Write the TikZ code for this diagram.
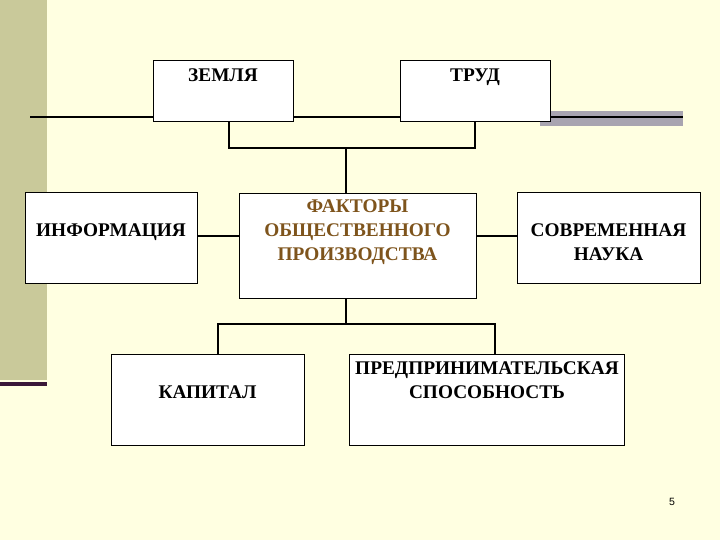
\documentclass[tikz,border=0pt]{standalone}
\usepackage{fontspec}
\setmainfont{Liberation Serif}
\setsansfont{Liberation Sans}
\usetikzlibrary{positioning}

\definecolor{bgcream}{HTML}{FFFFE1}
\definecolor{bandolive}{HTML}{C9C99A}
\definecolor{barpurple}{HTML}{3A1838}
\definecolor{bargray}{HTML}{A8A4B0}
\definecolor{factbrown}{HTML}{7E541C}

\tikzset{
    box/.style={draw=black, fill=white, line width=0.5pt, inner sep=0pt},
    lbl/.style={inner sep=0pt, align=center, font=\fontsize{11}{13.6}\selectfont\bfseries},
    link/.style={line width=0.9pt},
    mainline/.style={line width=1.3pt},
}

\begin{document}
\begin{tikzpicture}[x=0.02cm, y=-0.02cm]
        \fill[bgcream] (0,0) rectangle (720,540);
        \fill[bandolive] (0,0) rectangle (47,380);
        \fill[barpurple] (0,382) rectangle (47,386);
        \fill[bargray] (540,111) rectangle (683,126);

        \coordinate (lstart) at (30,117);
        \coordinate (rend) at (683,117);
        \coordinate (bl) at (229,148);
        \coordinate (brk) at (398,148);
        \coordinate (br) at (475,148);
        \coordinate (hubtop) at (346,148);
        \coordinate (midrow) at (0,236);
        \coordinate (hubbot) at (346,324);
        \coordinate (dl) at (218,324);
        \coordinate (dr) at (495,324);

        \node[box, minimum width=2.8cm, minimum height=1.22cm] (zemlya) at (223,90.5) {};
        \node[box, minimum width=3.0cm, minimum height=1.22cm] (trud) at (475,90.5) {};
        \node[box, minimum width=3.44cm, minimum height=1.82cm] (inform) at (111,237.5) {};
        \node[box, minimum width=4.74cm, minimum height=2.1cm] (factors) at (357.5,245.5) {};
        \node[box, minimum width=3.66cm, minimum height=1.82cm] (nauka) at (608.5,237.5) {};
        \node[box, minimum width=3.86cm, minimum height=1.82cm] (kapital) at (207.5,399.5) {};
        \node[box, minimum width=5.5cm, minimum height=1.82cm] (predpr) at (487,399.5) {};

        \node[lbl, below=5pt of zemlya.north] (zemlyatxt) {ЗЕМЛЯ};
        \node[lbl, below=5pt of trud.north] (trudtxt) {ТРУД};
        \node[lbl, below=18pt of inform.north] (informtxt) {ИНФОРМАЦИЯ};
        \node[lbl, text=factbrown, below=4pt of factors.north] (factorstxt) {ФАКТОРЫ\\ОБЩЕСТВЕННОГО\\ПРОИЗВОДСТВА};
        \node[lbl, below=18pt of nauka.north] (naukatxt) {СОВРЕМЕННАЯ\\НАУКА};
        \node[lbl, below=18pt of kapital.north] (kapitaltxt) {КАПИТАЛ};
        \node[lbl, below=4.5pt of predpr.north] (predprtxt) {ПРЕДПРИНИМАТЕЛЬСКАЯ\\СПОСОБНОСТЬ};

        \node[font=\sffamily\fontsize{6}{7}\selectfont, inner sep=0pt] (pagenum) at (672,502) {5};

        \draw[mainline] (lstart) -- (lstart -| zemlya.west);
        \draw[mainline] (zemlya.east |- lstart) -- (trud.west |- lstart);
        \draw[mainline] (trud.east |- rend) -- (rend);
        \draw[link] (bl |- zemlya.south) -- (bl) -- (br) -- (trud.south);
        \draw[line width=1.5pt] (brk) -- (br);
        \draw[link] (hubtop) -- (hubtop |- factors.north);
        \draw[link] (inform.east |- midrow) -- (factors.west |- midrow);
        \draw[link] (factors.east |- midrow) -- (nauka.west |- midrow);
        \draw[link] (factors.south -| hubbot) -- (hubbot);
        \draw[link] (kapital.north -| dl) -- (dl) -- (dr) -- (predpr.north -| dr);
\end{tikzpicture}
\end{document}
